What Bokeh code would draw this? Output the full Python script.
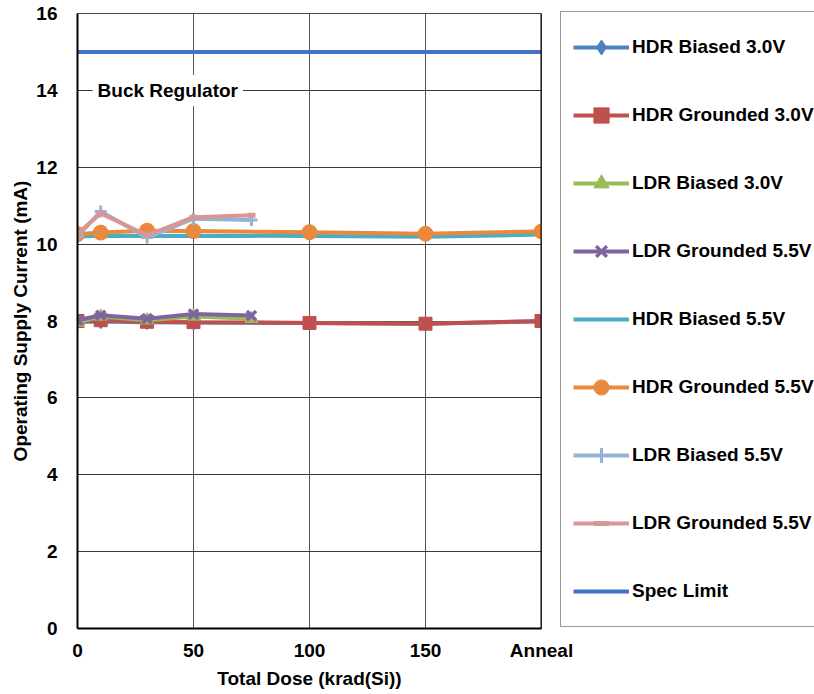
from bokeh.plotting import figure
from bokeh.models import (Range1d, FixedTicker, CustomJSTickFormatter, Legend,
                          LegendItem, Label, Span)
from bokeh.embed import file_html
from bokeh.resources import INLINE

# Dose steps (krad(Si)); 200 stands for the anneal step
hdr_dose = [0, 10, 30, 50, 100, 150, 200]
ldr_dose = [0, 10, 30, 50, 75]
spec_dose = [0, 200]

# Operating supply current (mA)
hdr_biased_30 = [7.98, 7.99, 7.97, 7.96, 7.95, 7.93, 7.99]
hdr_grounded_30 = [8.00, 8.02, 7.98, 7.97, 7.95, 7.93, 8.00]
ldr_biased_30 = [7.96, 8.12, 8.02, 8.12, 8.06]
ldr_grounded_55a = [8.02, 8.15, 8.06, 8.18, 8.14]
hdr_biased_55 = [10.20, 10.22, 10.21, 10.22, 10.21, 10.19, 10.25]
hdr_grounded_55 = [10.26, 10.30, 10.35, 10.34, 10.31, 10.27, 10.33]
ldr_biased_55 = [10.20, 10.85, 10.17, 10.66, 10.63]
ldr_grounded_55b = [10.27, 10.80, 10.23, 10.70, 10.75]
spec_limit = [15, 15]

x_ticks = [0, 50, 100, 150, 200]
x_tick_labels = ["0", "50", "100", "150", "Anneal"]
y_ticks = [0, 2, 4, 6, 8, 10, 12, 14, 16]

FONT = "Liberation Sans"
FS = "19px"

p = figure(width=814, height=694, output_backend="svg", toolbar_location=None,
           x_range=Range1d(0, 200), y_range=Range1d(0, 16),
           frame_width=464, frame_height=615,
           min_border_left=77, min_border_right=273,
           min_border_top=13, min_border_bottom=66)
p.background_fill_color = "white"
p.border_fill_color = "white"
p.outline_line_color = "#444444"
p.outline_line_width = 1

# axes
p.xaxis.ticker = FixedTicker(ticks=x_ticks)
p.xaxis.formatter = CustomJSTickFormatter(
    args=dict(tick_vals=x_ticks, tick_names=x_tick_labels),
    code="const i = tick_vals.indexOf(tick); return i >= 0 ? tick_names[i] : '';")
p.yaxis.ticker = FixedTicker(ticks=y_ticks)
for ax in (p.xaxis[0], p.yaxis[0]):
    ax.major_tick_line_color = None
    ax.minor_tick_line_color = None
    ax.axis_line_color = "black"
    ax.axis_line_width = 2
    ax.major_label_text_font = FONT
    ax.major_label_text_font_style = "bold"
    ax.major_label_text_font_size = FS
    ax.major_label_text_color = "black"
    ax.axis_label_text_font = FONT
    ax.axis_label_text_font_style = "bold"
    ax.axis_label_text_font_size = FS
    ax.axis_label_text_color = "black"
p.xaxis.axis_label = "Total Dose (krad(Si))"
p.yaxis.axis_label = "Operating Supply Current (mA)"
p.xaxis.major_label_standoff = 5
p.xaxis.axis_label_standoff = 4
p.yaxis.major_label_standoff = 14
p.yaxis.axis_label_standoff = 2

# grid
p.xgrid.ticker = FixedTicker(ticks=[50, 100, 150])
p.xgrid.grid_line_color = "#555555"
p.xgrid.grid_line_width = 1
p.ygrid.ticker = FixedTicker(ticks=[2, 4, 6, 8, 10, 12, 14])
p.ygrid.grid_line_color = "#3a3a3a"
p.ygrid.grid_line_width = 1
p.add_layout(Span(location=200, dimension="height", line_color="black", line_width=2))

LW = 4
items = []

def series(name, xs, ys, color, marker=None, size=12, mline=1, mfill=True):
    r_line = p.line(xs, ys, line_color=color, line_width=LW)
    rs = [r_line]
    if marker is not None:
        r_m = p.scatter(xs, ys, marker=marker, size=size, line_color=color,
                        line_width=mline,
                        fill_color=color if mfill else None)
        rs.append(r_m)
    items.append(LegendItem(label=name, renderers=rs))

series("HDR Biased 3.0V", hdr_dose, hdr_biased_30, "#4F81BD", "diamond", 15)
series("HDR Grounded 3.0V", hdr_dose, hdr_grounded_30, "#C0504D", "square", 13)
series("LDR Biased 3.0V", ldr_dose, ldr_biased_30, "#9BBB59", "triangle", 13)
series("LDR Grounded 5.5V", ldr_dose, ldr_grounded_55a, "#8064A2", "x", 13, mline=3.5)
series("HDR Biased 5.5V", hdr_dose, hdr_biased_55, "#4BACC6")
series("HDR Grounded 5.5V", hdr_dose, hdr_grounded_55, "#E8893D", "circle", 15)
series("LDR Biased 5.5V", ldr_dose, ldr_biased_55, "#95B3D7", "cross", 12, mline=3)
series("LDR Grounded 5.5V", ldr_dose, ldr_grounded_55b, "#D99694", "dash", 8, mline=5)
series("Spec Limit", spec_dose, spec_limit, "#4472C4")

p.add_layout(Label(x=6.5, y=14, text="Buck Regulator", text_font=FONT,
                   text_font_style="bold", text_font_size=FS,
                   text_color="black", text_baseline="middle",
                   background_fill_color="white", padding=5))

legend = Legend(items=items, location=(19, 1))
legend.label_text_font = FONT
legend.label_text_font_style = "bold"
legend.label_text_font_size = FS
legend.label_text_color = "black"
legend.glyph_width = 56
legend.glyph_height = 38
legend.label_height = 46
legend.label_width = 190
legend.label_standoff = 3
legend.spacing = 22
legend.padding = 12
legend.margin = 0
legend.border_line_color = "#333333"
legend.border_line_width = 1
legend.background_fill_color = "white"
legend.background_fill_alpha = 1
p.add_layout(legend, "right")

open("out.html", "w").write(file_html(p, INLINE))
